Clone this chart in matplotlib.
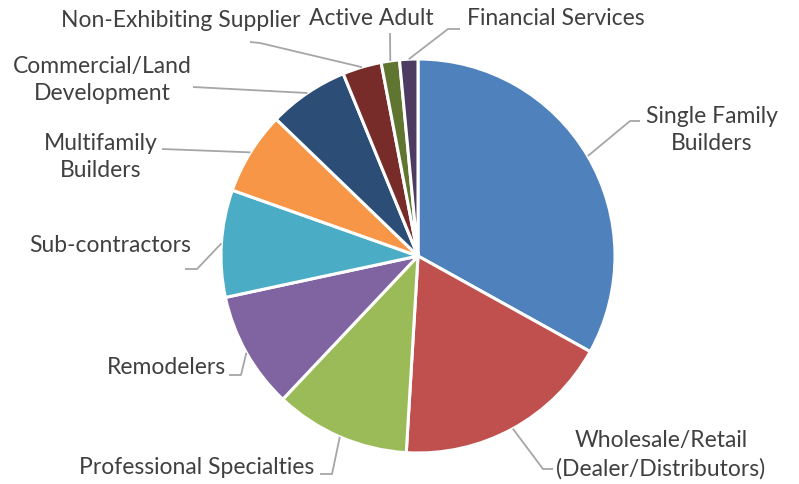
import numpy as np
import matplotlib.pyplot as plt

labels = ['Single Family\nBuilders', 'Wholesale/Retail\n(Dealer/Distributors)',
          'Professional Specialties', 'Remodelers', 'Sub-contractors',
          'Multifamily\nBuilders', 'Commercial/Land\nDevelopment',
          'Non-Exhibiting Supplier', 'Active Adult', 'Financial Services']
values = [33.1, 17.9, 11.1, 9.6, 8.8, 6.8, 6.6, 3.2, 1.5, 1.5]
colors = ['#4F81BD', '#C0504D', '#9BBB59', '#8064A2', '#4BACC6',
          '#F79646', '#2C4D75', '#772C2A', '#5F7530', '#4D3B62']

# label layout in pixel coords: text centre, elbow points of leader line
text_pos = [(712, 130), (661, 455), (197, 467), (166, 368), (110, 246),
            (101, 157), (102, 80), (181, 20), (371, 18), (556, 18)]
leader = [[(630, 122), (640, 122)], [(543, 470), (553, 470)],
          [(332, 475), (320, 475)], [(241, 376), (229, 376)],
          [(197, 270), (185, 270)], [(162, 150)], [(193, 88)],
          [(260, 44), (250, 43)], [(390, 34)], [(448, 30), (460, 30)]]

W, H = 799, 485
cx, cy, R = 418, 257, 197


def to_data(p):
    return ((p[0] - cx) / R, (cy - p[1]) / R)


fig = plt.figure(figsize=(W / 100, H / 100), dpi=100)
ax = fig.add_axes([0, 0, 1, 1])
wedges, _ = ax.pie(values, colors=colors, startangle=90, counterclock=False,
                   radius=1.0, wedgeprops=dict(edgecolor='white', linewidth=2.2))
ax.set_xlim(-cx / R, (W - cx) / R)
ax.set_ylim((cy - H) / R, cy / R)
ax.set_aspect('equal')
ax.axis('off')

for w, lab, tp, pts in zip(wedges, labels, text_pos, leader):
    mid = np.deg2rad((w.theta1 + w.theta2) / 2)
    start = (np.cos(mid), np.sin(mid))
    line = [start] + [to_data(p) for p in pts]
    xs, ys = zip(*line)
    ax.plot(xs, ys, color='#a6a6a6', lw=1.3, solid_capstyle='butt')
    tx, ty = to_data(tp)
    ax.text(tx, ty, lab, ha='center', va='center', fontsize=16.5,
            family='Lato', color='#404040', linespacing=1.38)

fig.savefig('out.png', dpi=100)
